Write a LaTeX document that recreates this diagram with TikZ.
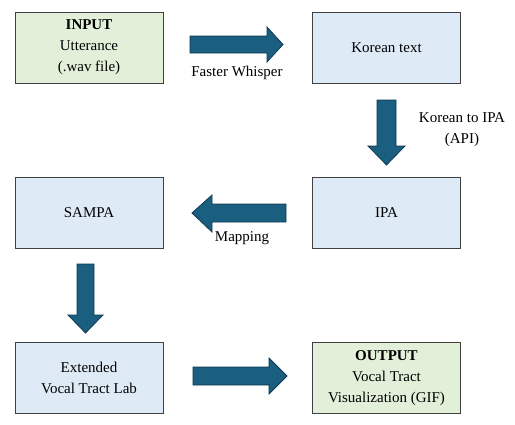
\documentclass[tikz,border=0pt]{standalone}
\usepackage{fontspec}
\setmainfont{Liberation Serif}
\definecolor{ingreen}{HTML}{E2F0D9}
\definecolor{procblue}{HTML}{DEEBF7}
\definecolor{boxline}{HTML}{404040}
\definecolor{arrfill}{HTML}{1A5E80}
\definecolor{arrline}{HTML}{0E3A4F}
\begin{document}
\begin{tikzpicture}[x=1pt,y=-1pt,
  box/.style={draw=boxline, line width=0.9pt, minimum width=148pt, minimum height=71pt,
    align=center, inner sep=0pt, font=\fontsize{15}{21}\selectfont},
  iobox/.style={box, fill=ingreen},
  procbox/.style={box, fill=procblue},
  blockarrow/.style={fill=arrfill, draw=arrline, line width=0.8pt, line join=miter},
  lbl/.style={align=center, inner sep=0pt, font=\fontsize{15}{21}\selectfont}]
\useasboundingbox (0,0) rectangle (515,424);
\node[iobox]   (input)  at (89,47.5)   {\textbf{INPUT}\\Utterance\\(.wav file)};
\node[procbox] (korean) at (386.5,48)  {Korean text};
\node[procbox] (sampa)  at (89,212.5)  {SAMPA};
\node[procbox] (ipa)    at (386.5,212.5) {IPA};
\node[procbox] (vtl)    at (89,378)    {Extended\\Vocal Tract Lab};
\node[iobox]   (output) at (386.5,378) {\textbf{OUTPUT}\\Vocal Tract\\Visualization (GIF)};
% input -> korean
\draw[blockarrow] (190,36) -- (267,36) -- (267,27) -- (283,44.5) -- (267,62) -- (267,53) -- (190,53) -- cycle;
\node[lbl] (l1) at (237,73) {Faster Whisper};
% korean -> ipa
\draw[blockarrow] (377,100) -- (396,100) -- (396,146) -- (405,146) -- (386.5,165) -- (368,146) -- (377,146) -- cycle;
\node[lbl] (l2) at (462,130) {Korean to IPA\\(API)};
% ipa -> sampa
\draw[blockarrow] (286,204) -- (212,204) -- (212,195) -- (192,213) -- (212,232) -- (212,222) -- (286,222) -- cycle;
\node[lbl] (l3) at (242,238) {Mapping};
% sampa -> vtl
\draw[blockarrow] (77,264) -- (94,264) -- (94,315) -- (103,315) -- (85.5,333) -- (68,315) -- (77,315) -- cycle;
% vtl -> output
\draw[blockarrow] (193,367) -- (269,367) -- (269,358) -- (287,376) -- (269,394) -- (269,385) -- (193,385) -- cycle;
\end{tikzpicture}
\end{document}
